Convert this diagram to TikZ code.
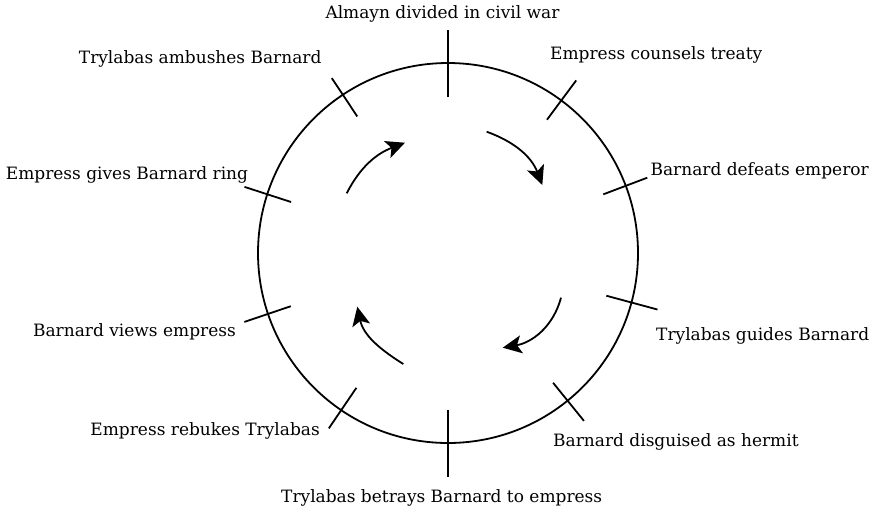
\documentclass[tikz,border=0pt]{standalone}
\usepackage{fontspec}
\setmainfont{DejaVu Serif}
\usetikzlibrary{arrows.meta}
\begin{document}
\begin{tikzpicture}[x=1pt,y=1pt,
  ring/.style={line width=1.8pt},
  tickmark/.style={line width=1.8pt},
  flow/.style={line width=1.8pt,-{Stealth[length=19pt,width=18pt,inset=4.5pt]}},
  lbl/.style={font=\fontsize{17}{20}\selectfont, inner sep=0pt}]
\useasboundingbox (0,0) rectangle (872,-515);
\coordinate (c) at (448,-253);
\draw[ring] (c) circle[radius=190];
\foreach \a/\ri/\ro in {90/156/223, 53.4/166/215, 20.7/166/213, -15.1/164/217, -51/167/216, -90/157/224, 235.8/163/212, 198.7/166/215, 162/165/214, 123.6/164/210}
  \draw[tickmark] ([shift={(\a:\ri)}]c) -- ([shift={(\a:\ro)}]c);
\coordinate (a1s) at (346.7,-193.3); \coordinate (a1e) at (405,-142.7);
\coordinate (a2s) at (486.7,-131.7); \coordinate (a2e) at (542.3,-185);
\coordinate (a3s) at (561,-297.7);   \coordinate (a3e) at (502.7,-347.7);
\coordinate (a4s) at (403.3,-364);   \coordinate (a4e) at (357.3,-306.7);
\draw[flow] (a1s) to[out=63,in=201] (a1e);
\draw[flow] (a2s) to[out=-20,in=111] (a2e);
\draw[flow] (a3s) to[out=-105,in=10] (a3e);
\draw[flow] (a4s) to[out=148,in=-78] (a4e);
\node[lbl, anchor=base] (l1) at (442.5,-18) {Almayn divided in civil war};
\node[lbl, anchor=base west] (l2) at (550,-59.3) {Empress counsels treaty};
\node[lbl, anchor=base east] (l3) at (869,-175.7) {Barnard defeats emperor};
\node[lbl, anchor=base west] (l4) at (656,-340) {Trylabas guides Barnard};
\node[lbl, anchor=base west] (l5) at (553,-446.7) {Barnard disguised as hermit};
\node[lbl, anchor=base] (l6) at (441.7,-502.3) {Trylabas betrays Barnard to empress};
\node[lbl, anchor=base east] (l7) at (320,-435) {Empress rebukes Trylabas};
\node[lbl, anchor=base east] (l8) at (236,-336) {Barnard views empress};
\node[lbl, anchor=base east] (l9) at (248.3,-179) {Empress gives Barnard ring};
\node[lbl, anchor=base east] (l10) at (321.7,-63.3) {Trylabas ambushes Barnard};
\end{tikzpicture}
\end{document}
